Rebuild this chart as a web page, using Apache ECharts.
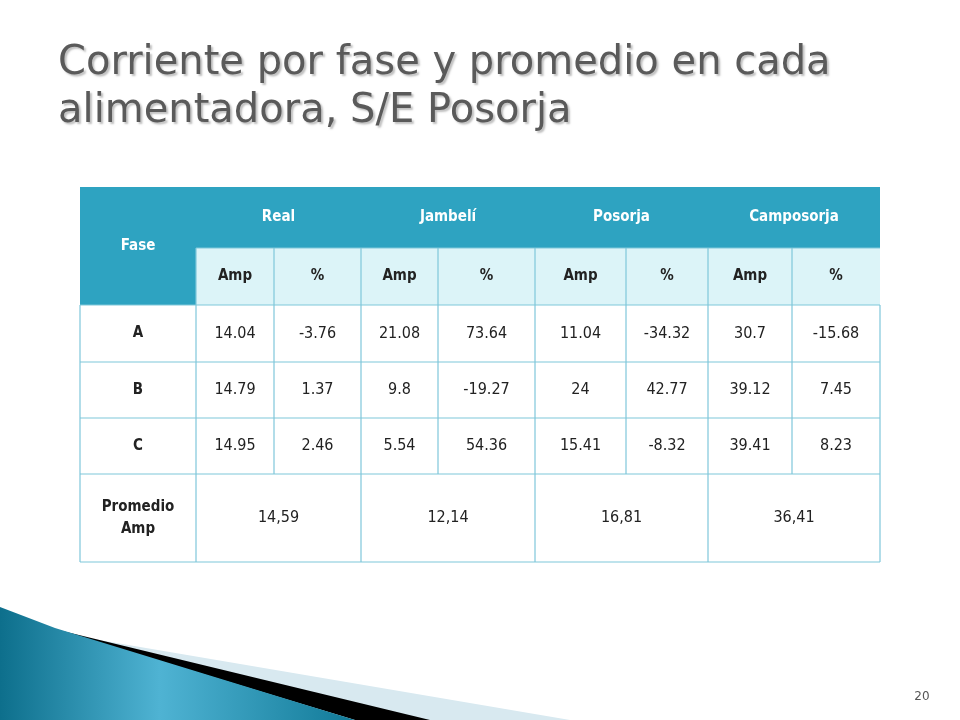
<!DOCTYPE html>
<html>
<head>
<meta charset="utf-8">
<title>Corriente por fase</title>
<style>html,body{margin:0;padding:0;background:#fff;}#main{width:960px;height:720px;}</style>
</head>
<body>
<div id="main"></div>
<script src="https://cdn.jsdelivr.net/npm/echarts@6/dist/echarts.min.js"></script>
<script>
// datos de la tabla
var feeders = ['Real', 'Jambelí', 'Posorja', 'Camposorja'];
var subHeads = ['Amp', '%'];
var phases = ['A', 'B', 'C'];
var phaseA = ['14.04', '-3.76', '21.08', '73.64', '11.04', '-34.32', '30.7', '-15.68'];
var phaseB = ['14.79', '1.37', '9.8', '-19.27', '24', '42.77', '39.12', '7.45'];
var phaseC = ['14.95', '2.46', '5.54', '54.36', '15.41', '-8.32', '39.41', '8.23'];
var promedio = ['14,59', '12,14', '16,81', '36,41'];

// geometria
var colX = [80, 196, 274, 361, 438, 535, 626, 708, 792, 880];
var rowY = [187, 248, 305, 362, 418, 474, 562];
var font = '"DejaVu Sans Condensed", "DejaVu Sans", sans-serif';
var dark = '#2ea3c1', light = '#dcf4f8', lineColor = '#7fc7da';

var els = [];
function rect(x, y, w, h, fill) {
    els.push({type: 'rect', shape: {x: x, y: y, width: w, height: h}, style: {fill: fill}});
}
function text(t, cx, cy, opt) {
    opt = opt || {};
    els.push({type: 'text', x: cx, y: cy, style: {
        text: t, fill: opt.color || '#222', font: (opt.bold ? 'bold ' : '') + (opt.size || 15) + 'px ' + font,
        align: 'center', verticalAlign: 'middle', lineHeight: 22
    }});
}
function seg(x1, y1, x2, y2) {
    els.push({type: 'line', shape: {x1: x1, y1: y1, x2: x2, y2: y2}, style: {stroke: lineColor, lineWidth: 1.2}});
}

// fondos
rect(colX[0], rowY[0], colX[9] - colX[0], rowY[2] - rowY[0], dark);
rect(colX[1], rowY[1], colX[9] - colX[1], rowY[2] - rowY[1], light);

// encabezados
text('Fase', (colX[0] + colX[1]) / 2, (rowY[0] + rowY[2]) / 2, {color: '#fff', bold: true});
feeders.forEach(function (f, i) {
    text(f, (colX[1 + 2 * i] + colX[3 + 2 * i]) / 2, (rowY[0] + rowY[1]) / 2, {color: '#fff', bold: true});
});
for (var c = 0; c < 8; c++) {
    text(subHeads[c % 2], (colX[1 + c] + colX[2 + c]) / 2, (rowY[1] + rowY[2]) / 2, {bold: true});
}

// filas de fases
[phaseA, phaseB, phaseC].forEach(function (row, r) {
    var cy = (rowY[2 + r] + rowY[3 + r]) / 2;
    text(phases[r], (colX[0] + colX[1]) / 2, cy, {bold: true});
    row.forEach(function (v, c) {
        text(v, (colX[1 + c] + colX[2 + c]) / 2, cy, {size: 16});
    });
});

// promedio
var py = (rowY[5] + rowY[6]) / 2;
text('Promedio\nAmp', (colX[0] + colX[1]) / 2, py, {bold: true});
promedio.forEach(function (v, i) {
    text(v, (colX[1 + 2 * i] + colX[3 + 2 * i]) / 2, py, {size: 16});
});

// lineas
for (var r = 2; r < rowY.length; r++) seg(colX[0], rowY[r], colX[9], rowY[r]);
seg(colX[0], rowY[2], colX[0], rowY[6]);
seg(colX[9], rowY[2], colX[9], rowY[6]);
seg(colX[1], rowY[1], colX[9], rowY[1]);
for (var k = 1; k < 9; k++) {
    seg(colX[k], rowY[1], colX[k], (k % 2 === 1) ? rowY[6] : rowY[5]);
}

// decoracion inferior
els.push({type: 'polygon', shape: {points: [[40, 630], [570, 720], [400, 720]]}, style: {fill: '#d8e9f0'}});
els.push({type: 'polygon', shape: {points: [[50, 628], [430, 720], [355, 720]]}, style: {fill: '#000'}});
els.push({type: 'polygon', shape: {points: [[0, 607], [55, 628], [355, 720], [0, 720]]}, style: {
    fill: {type: 'linear', x: 0, y: 0, x2: 1, y2: 0, colorStops: [
        {offset: 0, color: '#0d6f8c'}, {offset: 0.45, color: '#4fb3d3'}, {offset: 1, color: '#117a98'}]}
}});

// titulo y numero
els.push({type: 'text', x: 58, y: 40, style: {
    text: 'Corriente por fase y promedio en cada\nalimentadora, S/E Posorja', fill: '#5a5a5a',
    font: '40px "DejaVu Sans", sans-serif', lineHeight: 48, textShadowColor: 'rgba(0,0,0,0.25)', textShadowOffsetX: 2, textShadowOffsetY: 2, textShadowBlur: 2
}});
els.push({type: 'text', x: 922, y: 697, style: {text: '20', fill: '#555', font: '12px "DejaVu Sans", sans-serif', align: 'center', verticalAlign: 'middle'}});

var chart = echarts.init(document.getElementById('main'));
chart.setOption({graphic: {elements: els}});
</script>
</body>
</html>
